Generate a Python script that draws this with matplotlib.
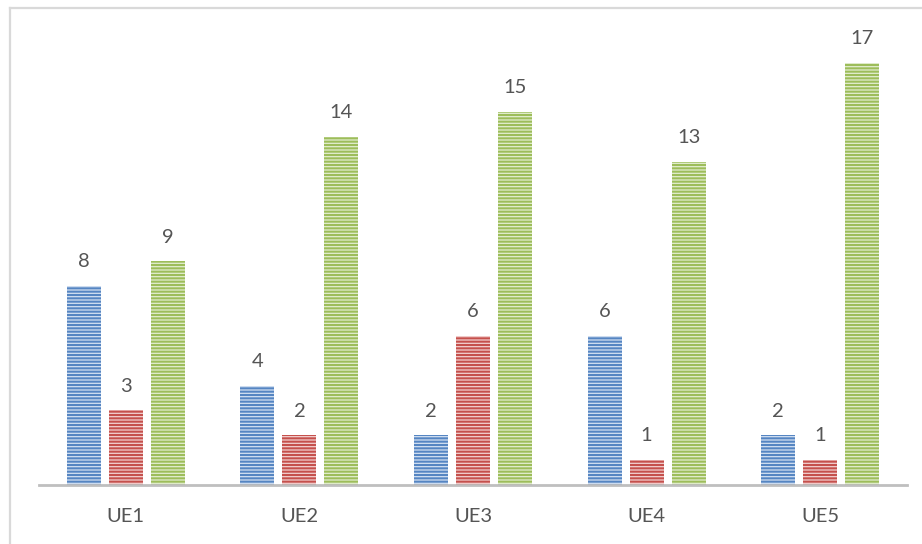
import matplotlib
matplotlib.use("Agg")
import matplotlib.pyplot as plt
import numpy as np
from matplotlib.lines import Line2D

categories = ["UE1", "UE2", "UE3", "UE4", "UE5"]
series_a = [8, 4, 2, 6, 2]
series_b = [3, 2, 6, 1, 1]
series_c = [9, 14, 15, 13, 17]

plt.rcParams['font.family'] = ['Lato', 'DejaVu Sans']
plt.rcParams['hatch.linewidth'] = 1.5

W, H, DPI = 922, 544, 100
fig = plt.figure(figsize=(W / DPI, H / DPI), dpi=DPI)
fig.patch.set_facecolor("white")

# axes placement in pixels
ax_left, ax_right = 39, 907
ax_bottom = 485
ymax = 19
ppu = 24.85
ax_top = ax_bottom - ymax * ppu
ax = fig.add_axes([ax_left / W, (H - ax_bottom) / H,
                   (ax_right - ax_left) / W, (ax_bottom - ax_top) / H])
ax.set_xlim(0, len(categories))
ax.set_ylim(0, ymax)

x = np.arange(len(categories)) + 0.5
bw = 34 / 173.6
step = 42 / 173.6

styles = [
    (series_a, "#d3e0f2", "#5585c2"),
    (series_b, "#f2d0cf", "#c5504c"),
    (series_c, "#e3eed0", "#9dbd5a"),
]
text_color = "#555555"
for i, (vals, light, dark) in enumerate(styles):
    xs = x + (i - 1) * step
    ax.bar(xs, vals, width=bw, color=light, edgecolor=dark, linewidth=0,
           hatch="-----", zorder=2)
    for xi, v in zip(xs, vals):
        ax.annotate(str(v), (xi, v), xytext=(0, 13.5), textcoords="offset points",
                    ha="center", va="baseline", fontsize=14.5, color=text_color)

for s in ["top", "right", "left"]:
    ax.spines[s].set_visible(False)
ax.spines["bottom"].set_color("#bfbfbf")
ax.spines["bottom"].set_linewidth(2)
ax.spines["bottom"].set_zorder(3)
ax.set_yticks([])
ax.set_xticks(x)
ax.set_xticklabels(categories, fontsize=14.5, color=text_color)
ax.tick_params(axis="x", length=0, pad=16.5)
ax.patch.set_alpha(0)

# outer chart border (light gray), cropped at right/bottom
fig.add_artist(Line2D([9.5 / W, 9.5 / W], [0, 1 - 7.5 / H], transform=fig.transFigure,
                      color="#d9d9d9", linewidth=1.6))
fig.add_artist(Line2D([9.5 / W, 1], [1 - 7.5 / H, 1 - 7.5 / H], transform=fig.transFigure,
                      color="#d9d9d9", linewidth=1.6))

fig.savefig("out.png", dpi=DPI, facecolor="white")
